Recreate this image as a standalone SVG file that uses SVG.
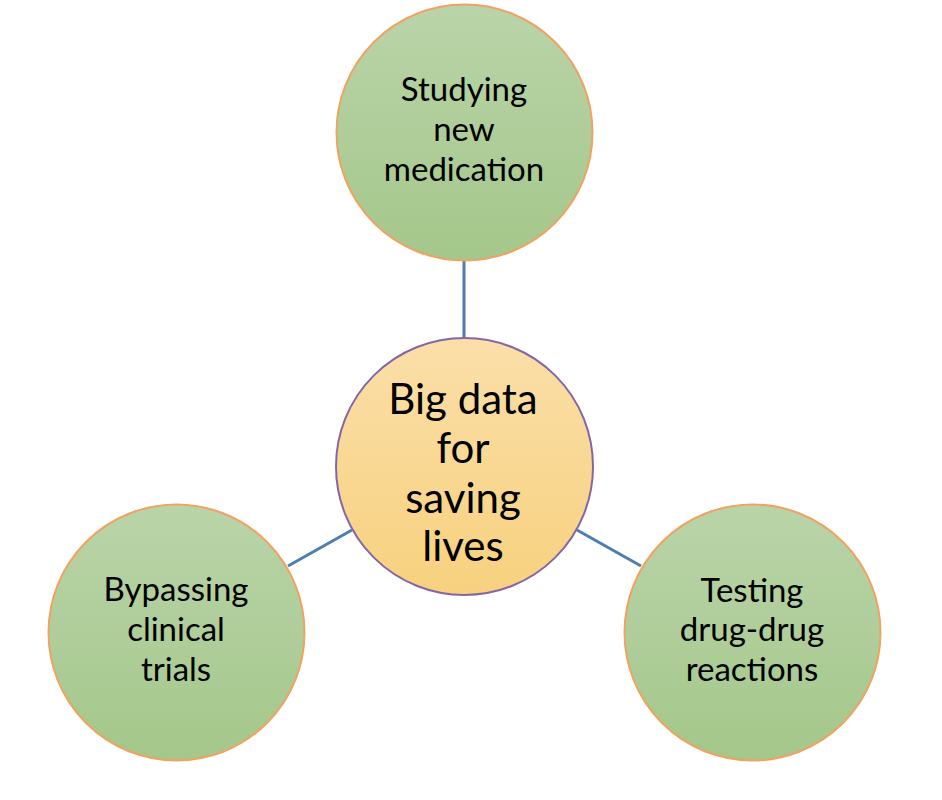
<svg xmlns="http://www.w3.org/2000/svg" width="942" height="800" viewBox="0 0 942 800">
<defs>
<linearGradient id="gGreen" x1="0" y1="0" x2="0" y2="1">
<stop offset="0" stop-color="#bad4a9"/>
<stop offset="1" stop-color="#a4c78a"/>
</linearGradient>
<linearGradient id="gGold" x1="0" y1="0" x2="0" y2="1">
<stop offset="0" stop-color="#fbdfa9"/>
<stop offset="1" stop-color="#f7d17e"/>
</linearGradient>
<style>
.outer{fill:url(#gGreen);stroke:#f0a262;stroke-width:2}
.center{fill:url(#gGold);stroke:#8466a6;stroke-width:2}
.conn{stroke:#4e7db1;stroke-width:3;fill:none}
.t{font-family:Lato,"Liberation Sans",sans-serif;font-size:33px;fill:#000;text-anchor:middle}
.tc{font-family:Lato,"Liberation Sans",sans-serif;font-size:42px;fill:#000;text-anchor:middle}
</style>
</defs>
<rect width="942" height="800" fill="#ffffff"/>
<g id="connectors">
<line class="conn" x1="464" y1="260" x2="464" y2="339"/>
<line class="conn" x1="288" y1="566" x2="352" y2="530"/>
<line class="conn" x1="577" y1="530" x2="641" y2="566"/>
</g>
<g id="node-top">
<circle class="outer" cx="464.5" cy="132.5" r="128"/>
<text class="t" x="464" y="101">Studying</text>
<text class="t" x="464" y="141">new</text>
<text class="t" x="464" y="181">medication</text>
</g>
<g id="node-center">
<circle class="center" cx="464.5" cy="466.5" r="128.5"/>
<text class="tc" x="463" y="414">Big data</text>
<text class="tc" x="463" y="463">for</text>
<text class="tc" x="463" y="513">saving</text>
<text class="tc" x="463" y="561">lives</text>
</g>
<g id="node-left">
<circle class="outer" cx="176.5" cy="632.5" r="128"/>
<text class="t" x="176" y="601">Bypassing</text>
<text class="t" x="176" y="641">clinical</text>
<text class="t" x="176" y="681">trials</text>
</g>
<g id="node-right">
<circle class="outer" cx="752.5" cy="632.5" r="128"/>
<text class="t" x="752" y="602">Testing</text>
<text class="t" x="752" y="641">drug-drug</text>
<text class="t" x="752" y="681">reactions</text>
</g>
</svg>
